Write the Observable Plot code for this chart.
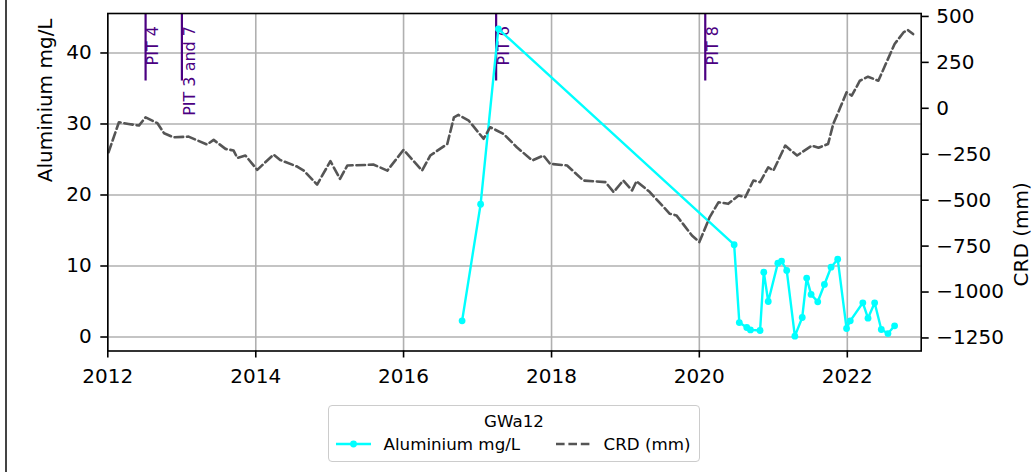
<!DOCTYPE html>
<html><head><meta charset="utf-8">
<script src="https://cdn.jsdelivr.net/npm/d3@7"></script>
<script src="https://cdn.jsdelivr.net/npm/@observablehq/plot@0.6"></script>
<style>
html,body{margin:0;padding:0;background:#fff;}
#wrap{position:relative;width:1033px;height:472px;overflow:hidden;font-family:"DejaVu Sans",sans-serif;}
#edge{position:absolute;left:5px;top:0;width:2px;height:472px;background:#444;}
#chart{position:absolute;left:0;top:0;}
#legend{position:absolute;left:328px;top:405px;width:370px;height:55px;border:1.5px solid #ccc;border-radius:4px;background:rgba(255,255,255,0.8);}
#legend .t{position:absolute;font-size:16.7px;line-height:20px;height:20px;color:#000;white-space:nowrap;}
#legend svg{position:absolute;}
</style>
</head><body>
<div id="wrap">
  <div id="edge"></div>
  <div id="chart"></div>
  <div id="legend">
    <div class="t" id="ltitle" style="left:0;width:370px;text-align:center;top:4.5px;"></div>
    <svg style="left:6.5px;top:28px;" width="36" height="20"><line x1="0" y1="10" x2="35" y2="10" stroke="cyan" stroke-width="2.4"/><circle cx="17.5" cy="10" r="3.4" fill="cyan"/></svg>
    <div class="t" id="l1" style="left:54.5px;top:28px;"></div>
    <svg style="left:226.5px;top:28px;" width="36" height="20"><line x1="0" y1="10" x2="34" y2="10" stroke="#555" stroke-width="2.6" stroke-dasharray="8.6,3.8"/></svg>
    <div class="t" id="l2" style="left:274.5px;top:28px;"></div>
  </div>
</div>
<script>
// ---- data ----
const seriesTitle = "GWa12";
const alLabel = "Aluminium mg/L";
const crdLabel = "CRD (mm)";

const alDates = [2016.79, 2017.04, 2017.28, 2020.47, 2020.54, 2020.64, 2020.69, 2020.82, 2020.87, 2020.93,
  2021.06, 2021.11, 2021.18, 2021.29, 2021.39, 2021.45, 2021.51, 2021.60, 2021.69, 2021.78, 2021.87,
  2021.99, 2022.04, 2022.21, 2022.28, 2022.37, 2022.46, 2022.55, 2022.64];
const alValues = [2.28, 18.7, 43.4, 13.0, 2.04, 1.34, 1.0, 0.92, 9.13, 5.0,
  10.4, 10.7, 9.37, 0.12, 2.75, 8.3, 6.0, 4.96, 7.4, 9.83, 10.96,
  1.2, 2.28, 4.82, 2.65, 4.82, 1.06, 0.49, 1.58];

const crdDates = [2012.01, 2012.15, 2012.28, 2012.42, 2012.51, 2012.67, 2012.76, 2012.89, 2013.09, 2013.21,
  2013.34, 2013.43, 2013.59, 2013.70, 2013.75, 2013.86, 2014.02, 2014.24, 2014.33, 2014.56,
  2014.65, 2014.83, 2015.01, 2015.14, 2015.24, 2015.51, 2015.59, 2015.78, 2016.00, 2016.25,
  2016.36, 2016.59, 2016.68, 2016.74, 2016.88, 2017.08, 2017.17, 2017.35, 2017.53, 2017.74,
  2017.89, 2017.98, 2018.21, 2018.43, 2018.73, 2018.84, 2018.97, 2019.09, 2019.15, 2019.33,
  2019.60, 2019.69, 2019.90, 2020.00, 2020.14, 2020.26, 2020.39, 2020.53, 2020.62, 2020.73,
  2020.82, 2020.93, 2021.00, 2021.16, 2021.32, 2021.52, 2021.61, 2021.74, 2021.81, 2021.90,
  2021.99, 2022.06, 2022.17, 2022.28, 2022.42, 2022.64, 2022.76, 2022.82, 2022.89];
const crdValues = [-239, -76, -85, -94, -49, -81, -136, -158, -154, -175,
  -197, -172, -221, -230, -270, -257, -335, -252, -281, -317,
  -339, -415, -288, -384, -311, -308, -306, -339, -226, -339,
  -257, -194, -49, -36, -67, -166, -103, -139, -212, -284,
  -257, -302, -311, -393, -402, -456, -393, -447, -397, -456,
  -574, -583, -692, -728, -592, -511, -520, -474, -484, -393,
  -402, -321, -339, -203, -257, -203, -215, -194, -85, 0,
  87, 69, 150, 172, 150, 350, 413, 426, 404];

const pitDates = [2012.51, 2013.00, 2017.25, 2020.08];
const pitLabels = ["PIT 4", "PIT 3 and 7", "PIT 6", "PIT 8"];

const xTickYears = [2012, 2014, 2016, 2018, 2020, 2022];
const leftTicks = [0, 10, 20, 30, 40];
const rightTicks = [500, 250, 0, -250, -500, -750, -1000, -1250];

// ---- helpers ----
function toDate(d) {
  const y = Math.floor(d);
  const a = Date.UTC(y, 0, 1), b = Date.UTC(y + 1, 0, 1);
  return new Date(a + (d - y) * (b - a));
}
const al = alDates.map((d, i) => ({date: toDate(d), value: alValues[i]}));
const crd = crdDates.map((d, i) => ({date: toDate(d), value: crdValues[i]}));
const pits = pitDates.map((d, i) => ({date: toDate(d), label: pitLabels[i]}));
const xTicks = xTickYears.map(y => new Date(Date.UTC(y, 0, 1)));

const yDomain = [-1.97, 45.56];
const crdDomain = [-1321, 516];
const toLeft = d3.scaleLinear().domain(crdDomain).range(yDomain);
const fmt = d3.format("d");
const ruleLow = yDomain[0] + 0.8 * (yDomain[1] - yDomain[0]);

const grid = {stroke: "#b0b0b0", strokeOpacity: 1, strokeWidth: 1.6};
const axisStyle = {tickSize: 7, strokeWidth: 1.6, stroke: "black", label: null};

const chart = Plot.plot({
  width: 1033, height: 400,
  marginLeft: 107.3, marginRight: 112.3, marginTop: 13, marginBottom: 49.5,
  style: {fontFamily: "DejaVu Sans", fontSize: "20px", background: "transparent", color: "black", overflow: "visible"},
  x: {type: "utc", domain: [new Date(Date.UTC(2012, 0, 1)), new Date(Date.UTC(2023, 0, 1))]},
  y: {domain: yDomain},
  marks: [
    Plot.gridX(xTicks, grid),
    Plot.gridY(leftTicks, grid),
    Plot.ruleX(pits, {x: "date", y1: ruleLow, y2: yDomain[1], stroke: "indigo", strokeWidth: 2.2}),
    Plot.text(pits, {x: "date", text: "label", frameAnchor: "top", dy: 12.5, dx: 1.5, rotate: -90,
      textAnchor: "end", lineAnchor: "top", fill: "indigo", fontSize: 16}),
    Plot.line(al, {x: "date", y: "value", stroke: "cyan", strokeWidth: 2.4}),
    Plot.dot(al, {x: "date", y: "value", fill: "cyan", r: 3.4}),
    Plot.line(crd, {x: "date", y: d => toLeft(d.value), stroke: "#555555", strokeWidth: 2.6, strokeDasharray: "8.6,3.8"}),
    Plot.frame({stroke: "black", strokeWidth: 1.6}),
    Plot.axisX(xTicks, {...axisStyle, tickFormat: "%Y", tickPadding: 11}),
    Plot.axisY(leftTicks, {...axisStyle, anchor: "left", tickPadding: 9}),
    Plot.axisY(rightTicks.map(v => toLeft(v)), {...axisStyle, anchor: "right", tickPadding: 8,
      tickFormat: v => fmt(Math.round(toLeft.invert(v)))}),
    Plot.text([alLabel], {text: d => d, frameAnchor: "left", dx: -62, rotate: -90, fontSize: 20, fill: "black"}),
    Plot.text([crdLabel], {text: d => d, frameAnchor: "right", dx: 100.5, rotate: -90, fontSize: 20, fill: "black"})
  ]
});
document.getElementById("chart").appendChild(chart);
document.getElementById("ltitle").textContent = seriesTitle;
document.getElementById("l1").textContent = alLabel;
document.getElementById("l2").textContent = crdLabel;
</script>
</body></html>
